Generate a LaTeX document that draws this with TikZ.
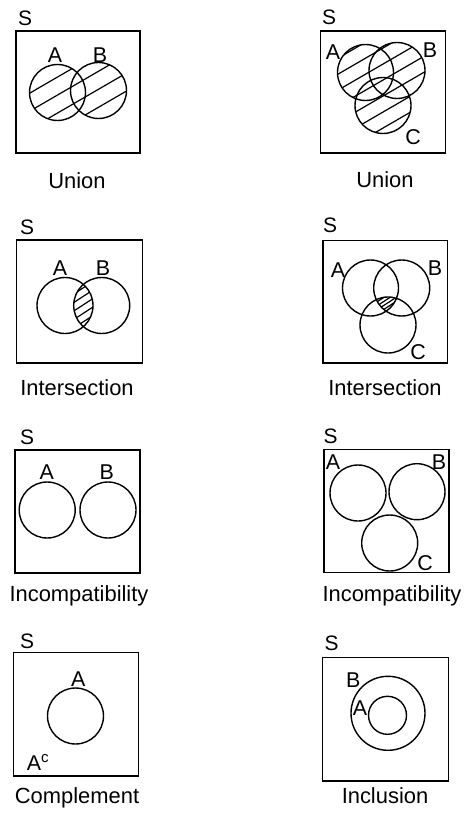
\documentclass[tikz,border=0pt]{standalone}
\usepackage{fontspec}
\setmainfont{Liberation Sans}
\usetikzlibrary{calc}
\tikzset{
  frame/.style={draw, rectangle, line width=1.5bp, inner sep=0pt},
  set/.style={draw, circle, line width=1.4bp, inner sep=0pt, minimum size=56bp},
  lbl/.style={inner sep=0pt, font=\fontsize{21.5}{24}\selectfont},
  univ/.style={inner sep=0pt, font=\fontsize{21}{24}\selectfont},
  caption/.style={inner sep=0pt, anchor=base, font=\fontsize{22}{26}\selectfont},
  hatch/.style={line width=1.2bp},
}
% parallel hatch lines through a reference point: point, vertical spacing, slope
\newcommand\hatchlines[3]{%
  \foreach \k in {-9,...,9}{%
    \draw[hatch] ($#1+(-100,{100*#3+\k*#2})$) -- ($#1+(100,{-100*#3+\k*#2})$);
  }}
\begin{document}
\begin{tikzpicture}[x=1bp,y=-1bp]
\useasboundingbox (0,0) rectangle (469,816);

% ---- Union, two sets
\coordinate (p1a) at (57.5,92.5);
\coordinate (p1b) at (98.5,90.5);
\node[frame, minimum width=124bp, minimum height=122bp] (s1) at (78,92) {};
\node[univ] (s1l) at (25,18) {S};
\begin{scope}
  \clip (p1a) circle[radius=28bp] (p1b) circle[radius=28bp];
  \hatchlines{(30,93)}{18}{0.58}
\end{scope}
\node[set] (c1a) at (p1a) {};
\node[set] (c1b) at (p1b) {};
\node[lbl] (l1a) at (55,55) {A};
\node[lbl] (l1b) at (100,55) {B};
\node[caption] (t1) at (77,188) {Union};

% ---- Union, three sets
\coordinate (p2a) at (365.5,72.5);
\coordinate (p2b) at (397,70.5);
\coordinate (p2c) at (383,105.5);
\node[frame, minimum width=125bp, minimum height=122bp] (s2) at (383.2,92) {};
\node[univ] (s2l) at (329,17) {S};
\begin{scope}
  \clip (p2a) circle[radius=28bp] (p2b) circle[radius=28bp] (p2c) circle[radius=28bp];
  \hatchlines{(340,73)}{16}{0.58}
\end{scope}
\node[set] (c2a) at (p2a) {};
\node[set] (c2b) at (p2b) {};
\node[set] (c2c) at (p2c) {};
\node[lbl] (l2a) at (333,52) {A};
\node[lbl] (l2b) at (430,50) {B};
\node[lbl] (l2c) at (413,137) {C};
\node[caption] (t2) at (385,187) {Union};

% ---- Intersection, two sets
\coordinate (p3a) at (65,305.5);
\coordinate (p3b) at (101.7,305.5);
\node[frame, minimum width=126bp, minimum height=123bp] (s3) at (79.7,301.5) {};
\node[univ] (s3l) at (27,227) {S};
\begin{scope}
  \clip (p3a) circle[radius=28bp];
  \clip (p3b) circle[radius=28bp];
  \hatchlines{(83,305)}{8.5}{0.65}
\end{scope}
\node[set] (c3a) at (p3a) {};
\node[set] (c3b) at (p3b) {};
\node[lbl] (l3a) at (60,268) {A};
\node[lbl] (l3b) at (103,268) {B};
\node[caption] (t3) at (77,395) {Intersection};

% ---- Intersection, three sets
\coordinate (p4a) at (370.5,288);
\coordinate (p4b) at (401.7,288);
\coordinate (p4c) at (388,325);
\node[frame, minimum width=124.7bp, minimum height=122.3bp] (s4) at (385.3,301.8) {};
\node[univ] (s4l) at (330,225) {S};
\begin{scope}
  \clip (p4a) circle[radius=28bp];
  \clip (p4b) circle[radius=28bp];
  \clip (p4c) circle[radius=28bp];
  \hatchlines{(386,304)}{4}{0.65}
\end{scope}
\node[set] (c4a) at (p4a) {};
\node[set] (c4b) at (p4b) {};
\node[set] (c4c) at (p4c) {};
\node[lbl] (l4a) at (338,270) {A};
\node[lbl] (l4b) at (435,268) {B};
\node[lbl] (l4c) at (418,351.7) {C};
\node[caption] (t4) at (385,395) {Intersection};

% ---- Incompatibility, two sets
\node[frame, minimum width=125bp, minimum height=123bp] (s5) at (77.5,511.5) {};
\node[univ] (s5l) at (27,437) {S};
\node[set] (c5a) at (47.2,510) {};
\node[set] (c5b) at (108,510) {};
\node[lbl] (l5a) at (46.7,471.7) {A};
\node[lbl] (l5b) at (106.7,471.7) {B};
\node[caption] (t5) at (79,601) {Incompatibility};

% ---- Incompatibility, three sets
\node[frame, minimum width=125bp, minimum height=123bp] (s6) at (386.5,510.8) {};
\node[univ] (s6l) at (330.7,436.7) {S};
\node[set] (c6a) at (358,493) {};
\node[set] (c6b) at (417,491.7) {};
\node[set] (c6c) at (389.7,543) {};
\node[lbl] (l6a) at (333,461.7) {A};
\node[lbl] (l6b) at (439,461.7) {B};
\node[lbl] (l6c) at (425,563) {C};
\node[caption] (t6) at (392,601) {Incompatibility};

% ---- Complement
\node[frame, minimum width=125bp, minimum height=123.3bp] (s7) at (75.8,714.3) {};
\node[univ] (s7l) at (27,641.7) {S};
\node[set] (c7a) at (75.5,716) {};
\node[lbl] (l7a) at (78.3,679) {A};
\node[lbl, anchor=base west] (l7c) at (26.7,770) {A$^{\mathrm{c}}$};
\node[caption] (t7) at (77,803) {Complement};

% ---- Inclusion
\node[frame, minimum width=125.6bp, minimum height=123.7bp] (s8) at (385.5,719.2) {};
\node[univ] (s8l) at (331.7,643.3) {S};
\node[set, minimum size=74bp] (c8b) at (388,713.3) {};
\node[set, minimum size=38bp] (c8a) at (387.5,715.3) {};
\node[lbl] (l8b) at (353.3,680) {B};
\node[lbl] (l8a) at (360,708.3) {A};
\node[caption] (t8) at (385,803) {Inclusion};
\end{tikzpicture}
\end{document}
